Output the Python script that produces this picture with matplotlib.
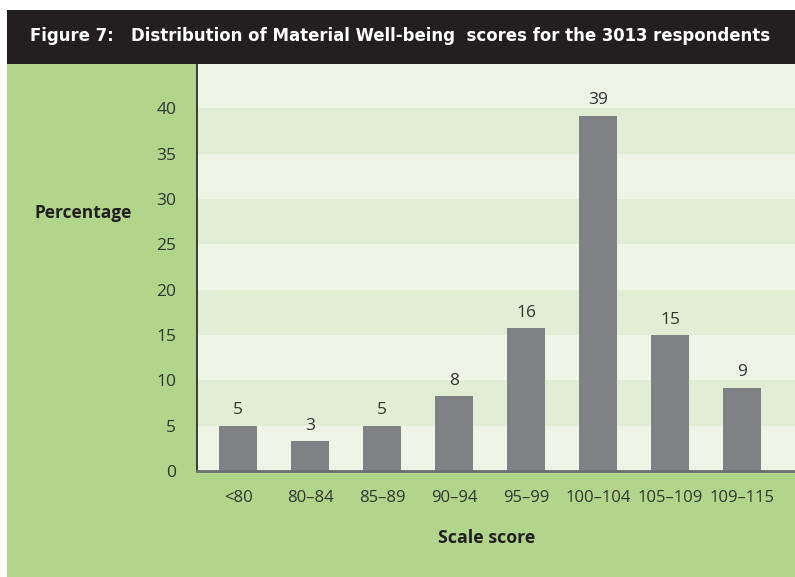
import matplotlib
matplotlib.use("Agg")
import matplotlib.pyplot as plt
from matplotlib.patches import Rectangle
from matplotlib import font_manager

categories = ["<80", "80\u201384", "85\u201389", "90\u201394", "95\u201399", "100\u2013104", "105\u2013109", "109\u2013115"]
values = [5.0, 3.3, 5.0, 8.3, 15.8, 39.2, 15.0, 9.2]
value_labels = ["5", "3", "5", "8", "16", "39", "15", "9"]
yticks = [0, 5, 10, 15, 20, 25, 30, 35, 40]

title = "Figure 7:   Distribution of Material Well-being  scores for the 3013 respondents"

names = {f.name for f in font_manager.fontManager.ttflist}
if "Liberation Sans Narrow" in names:
    title_font, title_stretch = "Liberation Sans Narrow", "normal"
else:
    title_font, title_stretch = "DejaVu Sans", "condensed"
body_font = "Open Sans"

W, H = 795, 577
fig = plt.figure(figsize=(W / 100, H / 100), dpi=100, facecolor="white")

GREEN = "#b1d68b"
LIGHT = "#eef5e6"
DARK = "#e1eed5"
BAR = "#808184"
TXT = "#333333"

def fx(px):
    return px / W

def fy(py):
    return 1 - py / H

# green background panel
fig.patches.append(Rectangle((fx(7), 0), 1 - fx(7), fy(10), transform=fig.transFigure,
                             facecolor=GREEN, edgecolor="none", zorder=-3))
# dark header
fig.patches.append(Rectangle((fx(7), fy(64)), 1 - fx(7), fy(10) - fy(64), transform=fig.transFigure,
                             facecolor="#231f20", edgecolor="none", zorder=-2))
t = fig.text(fx(30), fy(36), title, color="white", fontsize=16, fontweight="bold",
             family=title_font, fontstretch=title_stretch, ha="left", va="center")
# fit title to the reference width (about 740 px)
renderer = fig.canvas.get_renderer()
w = t.get_window_extent(renderer).width
t.set_fontsize(16 * 740 / w)

ax = fig.add_axes([fx(197), fy(471), 1 - fx(197), fy(64) - fy(471)])
ax.set_facecolor(LIGHT)
ax.set_ylim(0, 44.9)
ax.set_xlim(-0.57, 7.73)

for lo in [5, 15, 25, 35]:
    ax.axhspan(lo, lo + 5, color=DARK, zorder=0, lw=0)

x = list(range(len(categories)))
ax.bar(x, values, width=0.53, color=BAR, zorder=2)
for xi, v, lab in zip(x, values, value_labels):
    ax.text(xi, v + 0.8, lab, ha="center", va="bottom", fontsize=12.5, color=TXT, family=body_font)

ax.set_xticks(x)
ax.set_xticklabels(categories, fontsize=12, color=TXT, family=body_font)
ax.set_yticks(yticks)
ax.set_yticklabels([str(t) for t in yticks], fontsize=12.5, color=TXT, family=body_font)
ax.tick_params(axis="both", length=0)
ax.tick_params(axis="x", pad=14)
ax.tick_params(axis="y", pad=15)

for s in ["top", "right"]:
    ax.spines[s].set_visible(False)
ax.spines["left"].set_color("#231f20")
ax.spines["left"].set_linewidth(1.2)
ax.spines["bottom"].set_color("#6d6e70")
ax.spines["bottom"].set_linewidth(2)

fig.text(fx(487), fy(538), "Scale score", fontsize=12.8, fontweight="bold", color="#231f20",
         family=body_font, ha="center", va="center")
fig.text(fx(83), fy(213), "Percentage", fontsize=12.5, fontweight="bold", color="#231f20",
         family=body_font, ha="center", va="center")

fig.savefig("out.png", dpi=100, facecolor="white")
